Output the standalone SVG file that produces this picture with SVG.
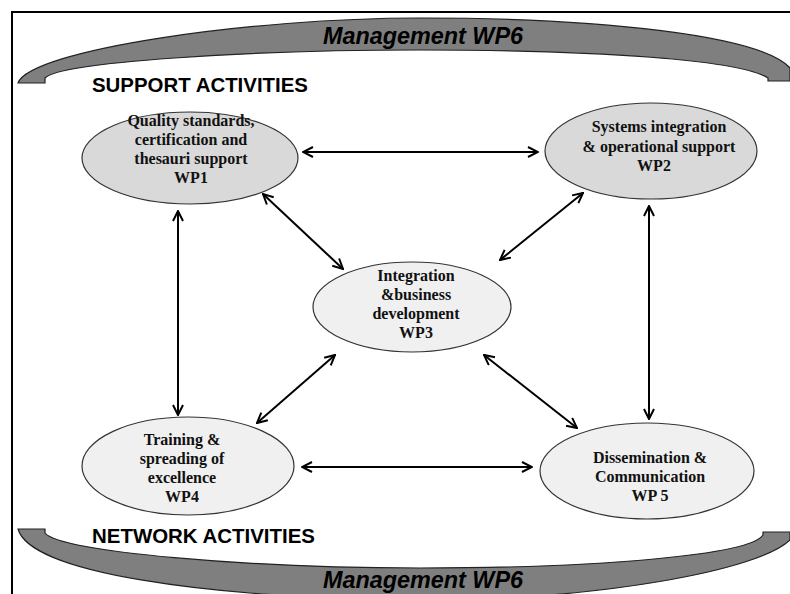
<svg xmlns="http://www.w3.org/2000/svg" width="790" height="594" viewBox="0 0 790 594">
<defs>
<marker id="ah" viewBox="0 0 12 12" refX="11" refY="6" markerWidth="12" markerHeight="12" markerUnits="userSpaceOnUse" orient="auto-start-reverse">
<path d="M1,1 L11,6 L1,11" fill="none" stroke="#000" stroke-width="2"/>
</marker>
</defs>
<style>
.band{fill:#7f7f7f;stroke:#222;stroke-width:1.2}
.dark{fill:#d9d9d9;stroke:#333;stroke-width:1.2}
.light{fill:#f0f0f0;stroke:#333;stroke-width:1.2}
.nt{font-family:"Liberation Serif","Times New Roman",serif;font-weight:bold;font-size:16px;fill:#111;text-anchor:middle}
.hd{font-family:"Liberation Sans",Arial,sans-serif;font-weight:bold;font-size:20px;fill:#000}
.mg{font-family:"Liberation Sans",Arial,sans-serif;font-weight:bold;font-style:italic;font-size:23px;fill:#000;text-anchor:middle}
.cn{stroke:#000;stroke-width:2;fill:none;marker-start:url(#ah);marker-end:url(#ah)}
</style>
<rect width="790" height="594" fill="#fff"/>
<path d="M12,594 V12 H790" fill="none" stroke="#000" stroke-width="2"/>
<g id="mgmt-top">
<path class="band" d="M18,83 C30,50 250,18 420,18 C600,18 760,35 790,68 L790,81 L768,81 L768,78 C740,60 600,50 420,50 C250,50 60,62 45,78 L45,83 Z"/>
<text class="mg" x="423" y="44" textLength="200" lengthAdjust="spacingAndGlyphs">Management WP6</text>
</g>
<g id="mgmt-bottom">
<path class="band" d="M18,529 L45,529 L45,533 C60,552 250,568 420,568 C600,568 750,555 763,535 L763,532 L790,532 L790,540 C760,570 600,600 420,600 C200,598 30,572 18,529 Z"/>
<text class="mg" x="423" y="588" textLength="200" lengthAdjust="spacingAndGlyphs">Management WP6</text>
</g>
<text class="hd" x="92" y="92" textLength="216" lengthAdjust="spacingAndGlyphs">SUPPORT ACTIVITIES</text>
<text class="hd" x="92" y="543" textLength="223" lengthAdjust="spacingAndGlyphs">NETWORK ACTIVITIES</text>
<g id="connectors">
<line class="cn" x1="303" y1="152" x2="538" y2="152"/>
<line class="cn" x1="263" y1="194" x2="343" y2="269"/>
<line class="cn" x1="583" y1="193" x2="500" y2="260"/>
<line class="cn" x1="178" y1="211" x2="178" y2="415"/>
<line class="cn" x1="649" y1="206" x2="649" y2="419"/>
<line class="cn" x1="335" y1="355" x2="257" y2="423"/>
<line class="cn" x1="484" y1="355" x2="577" y2="428"/>
<line class="cn" x1="302" y1="467" x2="532" y2="467"/>
</g>
<g id="wp1">
<ellipse class="dark" cx="190" cy="158" rx="108" ry="46"/>
<text class="nt" x="191" y="126">Quality standards,</text>
<text class="nt" x="191" y="145">certification and</text>
<text class="nt" x="191" y="164">thesauri support</text>
<text class="nt" x="191" y="183">WP1</text>
</g>
<g id="wp2">
<ellipse class="dark" cx="651" cy="151" rx="106" ry="48"/>
<text class="nt" x="659" y="132">Systems integration</text>
<text class="nt" x="659" y="152">&amp; operational support</text>
<text class="nt" x="654" y="171">WP2</text>
</g>
<g id="wp3">
<ellipse class="light" cx="412" cy="307" rx="99" ry="45"/>
<text class="nt" x="416" y="281">Integration</text>
<text class="nt" x="416" y="300">&amp;business</text>
<text class="nt" x="416" y="319">development</text>
<text class="nt" x="416" y="338">WP3</text>
</g>
<g id="wp4">
<ellipse class="light" cx="188" cy="466" rx="106" ry="49"/>
<text class="nt" x="182" y="445">Training &amp;</text>
<text class="nt" x="182" y="464">spreading of</text>
<text class="nt" x="182" y="483">excellence</text>
<text class="nt" x="182" y="502">WP4</text>
</g>
<g id="wp5">
<ellipse class="light" cx="647" cy="471" rx="107" ry="48"/>
<text class="nt" x="650" y="463">Dissemination &amp;</text>
<text class="nt" x="650" y="482">Communication</text>
<text class="nt" x="650" y="501">WP 5</text>
</g>
</svg>
